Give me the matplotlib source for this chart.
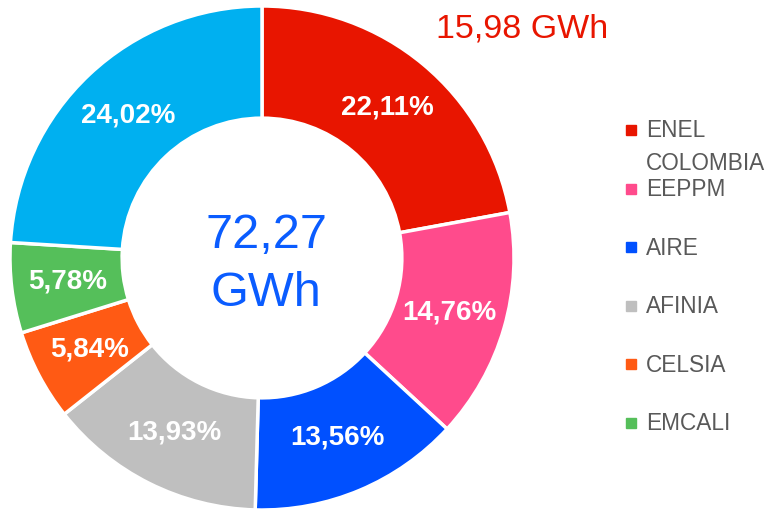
import matplotlib
matplotlib.use("Agg")
import matplotlib.pyplot as plt

# data (share of total, %)
companies = ["ENEL\nCOLOMBIA", "EEPPM", "AIRE", "AFINIA", "CELSIA", "EMCALI", "OTROS"]
shares = [22.11, 14.76, 13.56, 13.93, 5.84, 5.78, 24.02]
colors = ["#E81500", "#FF4B8C", "#0050FF", "#BFBFBF", "#FF5A14", "#55BF5A", "#00B0F0"]
legend_names = companies[:6]
total_label = "72,27\nGWh"
top_label = "15,98 GWh"

plt.rcParams["font.family"] = ["Liberation Sans", "DejaVu Sans"]

fig = plt.figure(figsize=(7.67, 5.09), dpi=100)
W, H = 767, 509
cx, cy, r = 262, 258, 252
ax = fig.add_axes([(cx - r) / W, (H - cy - r) / H, 2 * r / W, 2 * r / H])

wedges, texts = ax.pie(shares, colors=colors, startangle=90, counterclock=False,
                       radius=1.0, wedgeprops=dict(width=0.445, edgecolor="white", linewidth=2.5),
                       labels=[f"{s:.2f}%".replace(".", ",") for s in shares],
                       labeldistance=0.775, textprops=dict(color="white", fontsize=20, fontweight="bold",
                                                           ha="center", va="center"))
ax.set_xlim(-1, 1)
ax.set_ylim(-1, 1)
ax.set_aspect("equal")

# center total
ax.text(0.016, -0.026, total_label, ha="center", va="center", color="#0A5CFF", fontsize=35, linespacing=1.35)

# top right value
fig.text(522 / W, 1 - 29 / H, top_label, ha="center", va="center", color="#E81500", fontsize=24.5)

# legend (drawn by hand so the wrapped label doesn't shift the spacing)
for i, name in enumerate(legend_names):
    y = 130 + 58.6 * i
    fig.patches.append(plt.Rectangle(((631 - 5) / W, 1 - (y + 5) / H), 10 / W, 10 / H,
                                     transform=fig.transFigure, color=colors[i]))
    first, *rest = name.split("\n")
    fig.text(646 / W, 1 - (y + 7.5) / H, first, ha="left", va="baseline",
             color="#595959", fontsize=16.3)
    for j, line in enumerate(rest):
        fig.text(646 / W, 1 - (y + 7.5 + 33 * (j + 1)) / H, line, ha="left", va="baseline",
                 color="#595959", fontsize=16.3)

fig.savefig("out.png", dpi=100)
